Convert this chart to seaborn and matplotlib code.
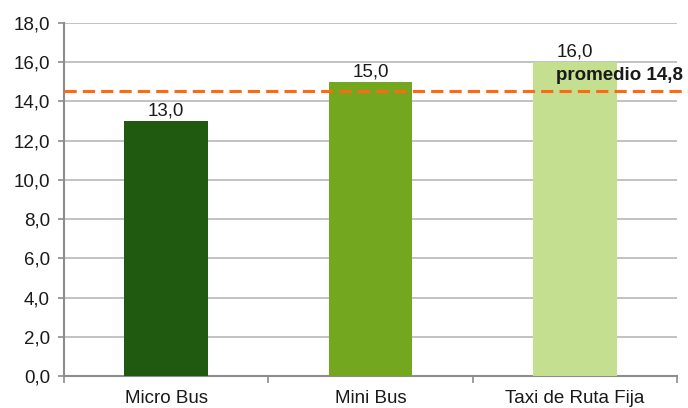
import matplotlib
matplotlib.use("Agg")
import matplotlib.pyplot as plt
import seaborn as sns
from matplotlib.ticker import FuncFormatter, FixedLocator

# Data
categories = ["Micro Bus", "Mini Bus", "Taxi de Ruta Fija"]
values = [13.0, 15.0, 16.0]
bar_colors = ["#1f5a10", "#73a71f", "#c3df8f"]
promedio_line = 14.55
promedio_text = "promedio 14,8"


def comma(v, pos=None):
    return f"{v:.1f}".replace(".", ",")


sns.set_theme(style="white")
plt.rcParams["font.family"] = ["Liberation Sans", "DejaVu Sans"]

FS = 13.5

fig = plt.figure(figsize=(6.88, 4.08), dpi=100)
ax = fig.add_axes([0.093, 0.078, 0.891, 0.866])

sns.barplot(x=categories, y=values, hue=categories, palette=bar_colors,
            width=0.41, legend=False, ax=ax, saturation=1, linewidth=0, zorder=3)

ax.set_ylim(0, 18)
ax.set_xlim(-0.5, 2.5)
ax.set_yticks(range(0, 19, 2))
ax.yaxis.set_major_formatter(FuncFormatter(comma))
ax.yaxis.grid(True, color="#b8b8b8", linewidth=1.2, zorder=0)
ax.set_axisbelow(True)

for side in ["top", "right"]:
    ax.spines[side].set_visible(False)
for side in ["left", "bottom"]:
    ax.spines[side].set_color("#8c8c8c")
    ax.spines[side].set_linewidth(1.5)

ax.tick_params(axis="y", which="major", length=4, width=1.2, color="#8c8c8c",
               labelsize=FS, labelcolor="#1a1a1a", left=True, pad=6)
ax.tick_params(axis="x", which="major", length=0, labelsize=FS,
               labelcolor="#1a1a1a", pad=10)
ax.xaxis.set_minor_locator(FixedLocator([-0.5, 0.5, 1.5, 2.5]))
ax.tick_params(axis="x", which="minor", length=5, width=1.2, color="#8c8c8c",
               bottom=True)
ax.set_xlabel("")
ax.set_ylabel("")

# value labels
for i, v in enumerate(values):
    ax.text(i, v + 0.27, comma(v), ha="center", va="baseline", fontsize=FS,
            color="#1a1a1a", zorder=5)

# average line
ax.plot([0, 1.018], [promedio_line, promedio_line], transform=ax.get_yaxis_transform(),
        color="#ff6a10", linestyle=(0, (4, 2)), linewidth=2.2, clip_on=False, zorder=4)
ax.text(1.01, 15.1, promedio_text, transform=ax.get_yaxis_transform(),
        ha="right", va="baseline", fontsize=FS, fontweight="bold",
        color="#1a1a1a", zorder=5)

fig.savefig("out.png", dpi=100)
